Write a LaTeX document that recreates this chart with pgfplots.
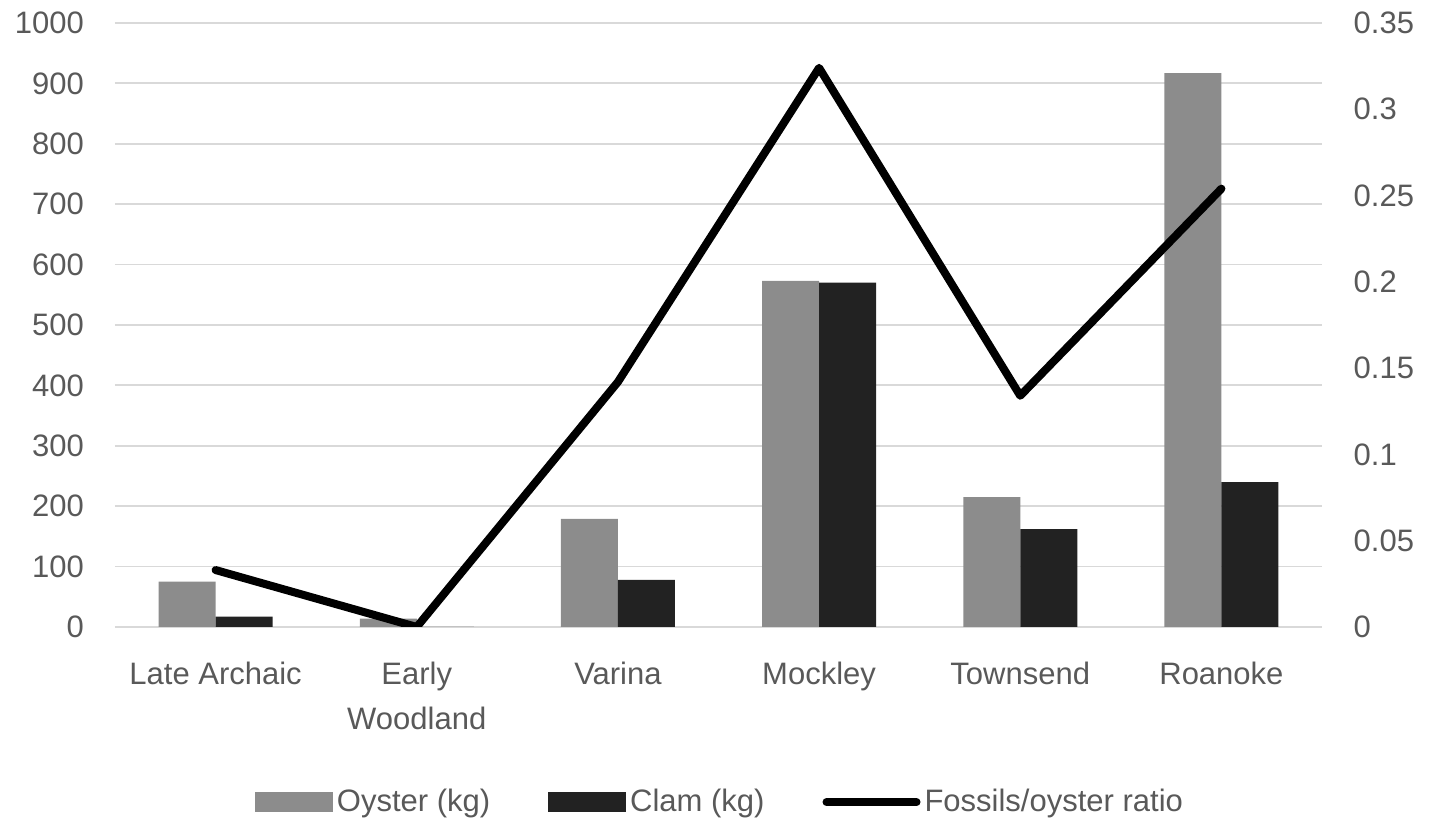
\documentclass[border=0pt]{standalone}
\usepackage{pgfplots}
\pgfplotsset{compat=1.18}
\usepackage{fontspec}
\setmainfont{Liberation Sans}
\definecolor{oyster}{HTML}{8C8C8C}
\definecolor{clam}{HTML}{222222}
\definecolor{tickgray}{HTML}{595959}
\definecolor{gridgray}{HTML}{D9D9D9}
\newcommand{\chartfont}{\fontsize{15.5}{22.5}\selectfont}
\pgfplotsset{
  barlegend/.style={legend image code/.code={\fill[##1] (0pt,-5pt) rectangle (39pt,5pt);}},
  linelegend/.style={legend image code/.code={\draw[##1] (0pt,0pt) -- (45pt,0pt);}},
}
\begin{document}
\begin{tikzpicture}
\useasboundingbox (0,0) rectangle (714.5pt,412pt);
\begin{axis}[
  at={(57.5pt,98.5pt)}, anchor=south west,
  scale only axis, width=603.5pt, height=302pt,
  xmin=-0.5, xmax=5.5, ymin=0, ymax=1000,
  ybar=0pt, bar width=28.5pt,
  xtick={0,1,2,3,4,5},
  xticklabels={Late Archaic, Early\\Woodland, Varina, Mockley, Townsend, Roanoke},
  ytick={0,100,200,300,400,500,600,700,800,900,1000},
  yticklabels={0,100,200,300,400,500,600,700,800,900,1000},
  axis line style={draw=none}, major tick length=0pt,
  ymajorgrids, grid style={gridgray, line width=0.9pt},
  xticklabel style={align=center, font=\chartfont, text=tickgray, yshift=-14pt},
  yticklabel style={font=\chartfont, text=tickgray, xshift=-12pt},
]
\addplot[fill=oyster, draw=none] coordinates {(0,75) (1,14) (2,179) (3,573) (4,215) (5,917)};
\addplot[fill=clam, draw=none] coordinates {(0,17) (1,0) (2,78) (3,570) (4,162) (5,240)};
\end{axis}
\begin{axis}[
  at={(57.5pt,98.5pt)}, anchor=south west,
  scale only axis, width=603.5pt, height=302pt,
  xmin=-0.5, xmax=5.5, ymin=0, ymax=0.35,
  xtick=\empty,
  ytick={0,0.05,0.1,0.15,0.2,0.25,0.3,0.35},
  yticklabels={0,0.05,0.1,0.15,0.2,0.25,0.3,0.35},
  yticklabel pos=right,
  axis line style={draw=none}, major tick length=0pt,
  yticklabel style={font=\chartfont, text=tickgray, xshift=12.3pt},
  legend columns=3,
  legend style={at={(axis description cs:0.502,-0.29)}, anchor=center, draw=none,
    font=\chartfont, text=tickgray, fill=none,
    /tikz/every even column/.append style={column sep=27pt}},
]
\addlegendimage{fill=oyster, draw=none, barlegend}
\addlegendentry{Oyster (kg)}
\addlegendimage{fill=clam, draw=none, barlegend}
\addlegendentry{Clam (kg)}
\addplot[black, line width=4pt, line join=round, line cap=round, linelegend]
  coordinates {(0,0.033) (1,0) (2,0.142) (3,0.324) (4,0.134) (5,0.254)};
\addlegendentry{Fossils/oyster ratio}
\end{axis}
\end{tikzpicture}
\end{document}
